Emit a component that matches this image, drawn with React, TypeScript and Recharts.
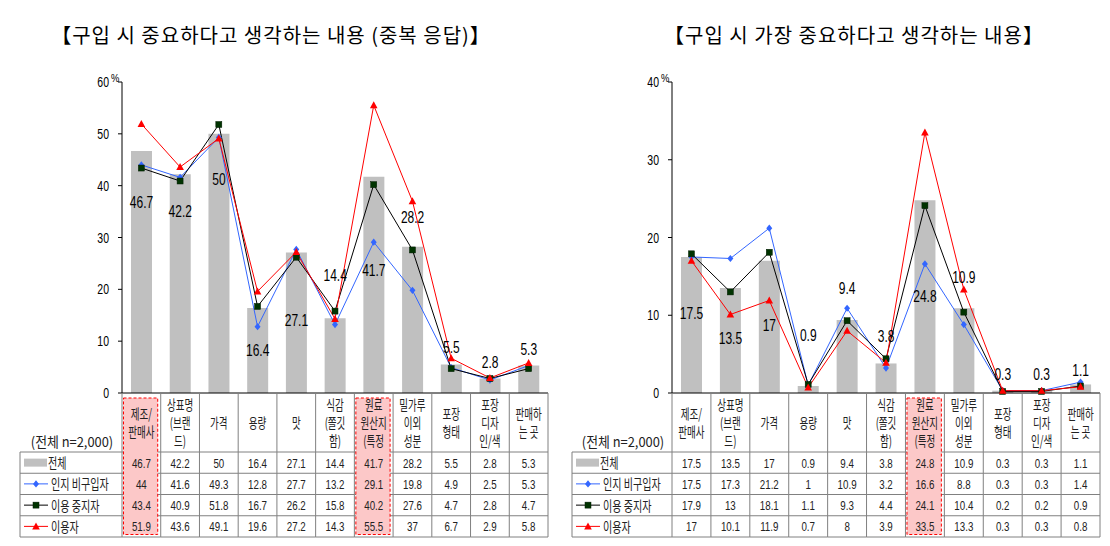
import React from 'react';
import { ComposedChart, Bar, Line, XAxis, YAxis, LabelList } from 'recharts';

// ---------- data ----------
const CATEGORIES = [
  '제조/|판매사',
  '상표명|(브랜|드)',
  '가격',
  '용량',
  '맛',
  '식감|(쫄깃|함)',
  '원료|원산지|(특정',
  '밀가루|이외|성분',
  '포장|형태',
  '포장|디자|인/색',
  '판매하|는 곳',
];
const SERIES_NAMES = ['전체', '인지 비구입자', '이용 중지자', '이용자'];
const SAMPLE_NOTE = '(전체 n=2,000)';

const MULTI_TITLE = '【구입 시 중요하다고 생각하는 내용 (중복 응답)】';
const MULTI_TOTAL = [46.7, 42.2, 50, 16.4, 27.1, 14.4, 41.7, 28.2, 5.5, 2.8, 5.3];
const MULTI_AWARE = [44, 41.6, 49.3, 12.8, 27.7, 13.2, 29.1, 19.8, 4.9, 2.5, 5.3];
const MULTI_STOPPED = [43.4, 40.9, 51.8, 16.7, 26.2, 15.8, 40.2, 27.6, 4.7, 2.8, 4.7];
const MULTI_USERS = [51.9, 43.6, 49.1, 19.6, 27.2, 14.3, 55.5, 37, 6.7, 2.9, 5.8];
const MULTI_TICKS = [0, 10, 20, 30, 40, 50, 60];
const MULTI_HIGHLIGHT = [0, 6];

const TOP_TITLE = '【구입 시 가장 중요하다고 생각하는 내용】';
const TOP_TOTAL = [17.5, 13.5, 17, 0.9, 9.4, 3.8, 24.8, 10.9, 0.3, 0.3, 1.1];
const TOP_AWARE = [17.5, 17.3, 21.2, 1, 10.9, 3.2, 16.6, 8.8, 0.3, 0.3, 1.4];
const TOP_STOPPED = [17.9, 13, 18.1, 1.1, 9.3, 4.4, 24.1, 10.4, 0.2, 0.2, 0.9];
const TOP_USERS = [17, 10.1, 11.9, 0.7, 8, 3.9, 33.5, 13.3, 0.3, 0.3, 0.8];
const TOP_TICKS = [0, 10, 20, 30, 40];
const TOP_HIGHLIGHT = [6];

// label placement (pixel offset of each bar's value label from the bar top)
const MULTI_LABEL_DY = [51, 37, 45, 42, 67, -43, 93, -30, -17, -16, -17];
const TOP_LABEL_DY = [56, 50, 64, -51, -32, -27, 96, -31, -17, -17, -14];

// ---------- style ----------
const FONT_KR = '"Noto Sans CJK KR", "Noto Sans", sans-serif';
const FONT_NUM = '"Liberation Sans", Arial, sans-serif';
const GRID = '#808080';
const BAR = '#c0c0c0';
const BLUE = '#3366ff';
const GREEN = '#003300';
const RED = '#ff0000';
const HL_FILL = '#fcc8c8';

const HEADER_H = 59;
const ROW_H = 21.25;
const TABLE_H = HEADER_H + 4 * ROW_H;

function SText(props: any) {
  const { x, y, children, size, sx = 1, anchor = 'middle', font = FONT_NUM, fill = '#000' } = props;
  return (
    <text
      transform={`translate(${x},${y}) scale(${sx},1)`}
      textAnchor={anchor}
      fontSize={size}
      fontFamily={font}
      fill={fill}
    >
      {children}
    </text>
  );
}

function Diamond({ cx, cy }: any) {
  const r = 3.6;
  return <path d={`M${cx},${cy - r}L${cx + 3},${cy}L${cx},${cy + r}L${cx - 3},${cy}Z`} fill={BLUE} />;
}
function Square({ cx, cy }: any) {
  return <rect x={cx - 3} y={cy - 3} width={6} height={6} fill={GREEN} stroke="#001a00" strokeWidth={0.5} />;
}
function Triangle({ cx, cy }: any) {
  return <path d={`M${cx},${cy - 4}L${cx + 3.8},${cy + 3}L${cx - 3.8},${cy + 3}Z`} fill={RED} />;
}

function makeTick(cfg: any) {
  return (props: any) => {
    const { x, y, payload } = props;
    const n = CATEGORIES.length;
    const i = CATEGORIES.indexOf(payload.value);
    const bw = cfg.plotW / n;
    const x0 = x - bw / 2;
    const x1 = x + bw / 2;
    const yb = y + TABLE_H;
    const rows = [cfg.total, cfg.aware, cfg.stopped, cfg.users];
    const hl = cfg.highlight.includes(i);
    const lines = String(payload.value).split('|');
    const hc = y + 29.5;
    const els: any[] = [];
    els.push(<line key="vl" x1={x0} y1={y} x2={x0} y2={yb} stroke={GRID} />);
    if (i === n - 1) els.push(<line key="vr" x1={x1} y1={y} x2={x1} y2={yb} stroke={GRID} />);
    for (let k = 0; k <= 4; k++) {
      const yy = y + HEADER_H + k * ROW_H;
      els.push(<line key={'h' + k} x1={x0} y1={yy} x2={x1} y2={yy} stroke={GRID} />);
    }
    if (hl) {
      els.push(
        <rect
          key="hl"
          x={x0 + 1.5}
          y={y + 5}
          width={bw - 4.5}
          height={TABLE_H - 7.5}
          fill={HL_FILL}
          stroke={RED}
          strokeDasharray="3 2"
          strokeWidth={1}
        />
      );
    }
    lines.forEach((t, j) => {
      const cy = hc + (j - (lines.length - 1) / 2) * 18;
      els.push(
        <SText key={'t' + j} x={x} y={cy + 5} size={14} sx={0.68} font={FONT_KR} fill="#222">
          {t}
        </SText>
      );
    });
    rows.forEach((arr: number[], k: number) => {
      const cy = y + HEADER_H + (k + 0.5) * ROW_H;
      els.push(
        <SText key={'v' + k} x={x} y={cy + 5} size={13} sx={0.75} fill="#222">
          {String(arr[i])}
        </SText>
      );
    });
    if (i === 0) {
      const lx0 = x0 - cfg.labelW;
      els.push(<line key="ll" x1={lx0} y1={y + HEADER_H} x2={lx0} y2={yb} stroke={GRID} />);
      for (let k = 0; k <= 4; k++) {
        const yy = y + HEADER_H + k * ROW_H;
        els.push(<line key={'lh' + k} x1={lx0} y1={yy} x2={x0} y2={yy} stroke={GRID} />);
      }
      els.push(
        <SText key="note" x={lx0 + cfg.labelW / 2 + 1} y={y + 54} size={14} sx={0.92} font={FONT_KR} fill="#222">
          {SAMPLE_NOTE}
        </SText>
      );
      SERIES_NAMES.forEach((name, k) => {
        const cy = y + HEADER_H + (k + 0.5) * ROW_H;
        const sx0 = lx0 + 4;
        const sx1 = lx0 + 28;
        const mx = (sx0 + sx1) / 2;
        if (k === 0) {
          els.push(<rect key="sw0" x={sx0} y={cy - 4} width={sx1 - sx0 - 1} height={8} fill={BAR} />);
        } else {
          const col = k === 1 ? BLUE : k === 2 ? '#000' : RED;
          els.push(<line key={'sl' + k} x1={sx0} y1={cy} x2={sx1} y2={cy} stroke={col} />);
          if (k === 1) els.push(<Diamond key="sm1" cx={mx} cy={cy} />);
          if (k === 2) els.push(<Square key="sm2" cx={mx} cy={cy} />);
          if (k === 3) els.push(<Triangle key="sm3" cx={mx} cy={cy} />);
        }
        els.push(
          <SText key={'ln' + k} x={sx1 + (k === 0 ? 0 : 3)} y={cy + 5.5} size={14} sx={0.72} anchor="start" font={FONT_KR} fill="#222">
            {name}
          </SText>
        );
      });
    }
    return <g>{els}</g>;
  };
}

function makeYTick(cfg: any) {
  return (props: any) => {
    const { x, y, payload } = props;
    const axisX = x + 13;
    return (
      <g>
        <SText x={x} y={y + 5} size={14} sx={0.75} anchor="end">
          {String(payload.value)}
        </SText>
        {payload.value === cfg.max ? (
          <SText x={axisX - 11} y={y} size={11} sx={0.85} anchor="start">
            %
          </SText>
        ) : null}
      </g>
    );
  };
}

function makeBarLabel(cfg: any) {
  return (props: any) => {
    const { x, y, width, value, index } = props;
    return (
      <SText x={Number(x) + Number(width) / 2} y={Number(y) + cfg.labelDy[index] + 6} size={16} sx={0.75}>
        {String(value)}
      </SText>
    );
  };
}

function Panel({ cfg }: any) {
  const data = CATEGORIES.map((c, i) => ({
    cat: c,
    total: cfg.total[i],
    aware: cfg.aware[i],
    stopped: cfg.stopped[i],
    users: cfg.users[i],
  }));
  return (
    <div style={{ position: 'absolute', left: cfg.left, top: 0, width: 555, height: 546 }}>
      <div
        style={{
          position: 'absolute',
          left: cfg.titleX - 270,
          width: 540,
          top: 24,
          textAlign: 'center',
          fontFamily: FONT_KR,
          fontSize: 20,
          letterSpacing: '1px',
          lineHeight: '22px',
          color: '#000',
          whiteSpace: 'nowrap',
        }}
      >
        {cfg.title}
      </div>
      <ComposedChart
        width={555}
        height={546}
        data={data}
        margin={{ top: 82, right: cfg.mr, bottom: 9, left: cfg.ml }}
      >
        <XAxis
          dataKey="cat"
          interval={0}
          tickLine={false}
          tickSize={0}
          tickMargin={0}
          height={TABLE_H}
          axisLine={{ stroke: '#000' }}
          tick={makeTick(cfg)}
        />
        <YAxis
          domain={[0, cfg.max]}
          ticks={cfg.ticks}
          interval={0}
          width={40}
          axisLine={{ stroke: '#000' }}
          tickLine={{ stroke: '#000' }}
          tickSize={4}
          tickMargin={9}
          tick={makeYTick(cfg)}
        />
        <Bar dataKey="total" fill={BAR} barSize={21} isAnimationActive={false}>
          <LabelList dataKey="total" content={makeBarLabel(cfg)} />
        </Bar>
        <Line
          dataKey="aware"
          stroke={BLUE}
          strokeWidth={1}
          isAnimationActive={false}
          activeDot={false}
          dot={(p: any) => <Diamond key={'d' + p.index} cx={p.cx} cy={p.cy} />}
        />
        <Line
          dataKey="stopped"
          stroke="#000"
          strokeWidth={1}
          isAnimationActive={false}
          activeDot={false}
          dot={(p: any) => <Square key={'s' + p.index} cx={p.cx} cy={p.cy} />}
        />
        <Line
          dataKey="users"
          stroke={RED}
          strokeWidth={1}
          isAnimationActive={false}
          activeDot={false}
          dot={(p: any) => <Triangle key={'t' + p.index} cx={p.cx} cy={p.cy} />}
        />
      </ComposedChart>
    </div>
  );
}

const LEFT_CFG = {
  left: 0,
  title: MULTI_TITLE,
  titleX: 271,
  total: MULTI_TOTAL,
  aware: MULTI_AWARE,
  stopped: MULTI_STOPPED,
  users: MULTI_USERS,
  ticks: MULTI_TICKS,
  max: 60,
  highlight: MULTI_HIGHLIGHT,
  labelDy: MULTI_LABEL_DY,
  ml: 82,
  mr: 7,
  plotW: 426,
  labelW: 102,
};

const RIGHT_CFG = {
  left: 555,
  title: TOP_TITLE,
  titleX: 299,
  total: TOP_TOTAL,
  aware: TOP_AWARE,
  stopped: TOP_STOPPED,
  users: TOP_USERS,
  ticks: TOP_TICKS,
  max: 40,
  highlight: TOP_HIGHLIGHT,
  labelDy: TOP_LABEL_DY,
  ml: 77,
  mr: 10,
  plotW: 428,
  labelW: 100,
};

export default function App() {
  return (
    <div
      style={{
        position: 'absolute',
        left: 0,
        top: 0,
        width: 1110,
        height: 546,
        background: '#fff',
        overflow: 'hidden',
      }}
    >
      <Panel cfg={LEFT_CFG} />
      <Panel cfg={RIGHT_CFG} />
    </div>
  );
}
